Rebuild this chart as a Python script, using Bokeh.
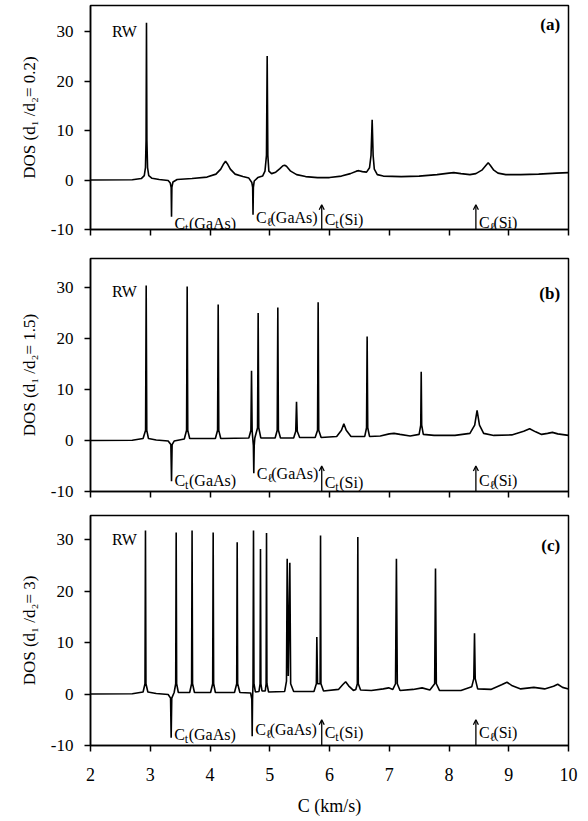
from bokeh.plotting import figure
from bokeh.layouts import column
from bokeh.models import Range1d, Arrow, OpenHead
from bokeh.core.properties import value
from bokeh.embed import file_html
from bokeh.resources import INLINE

SERIF = "Liberation Serif"

x_ticks = [2, 3, 4, 5, 6, 7, 8, 9, 10]
y_ticks = [-10, 0, 10, 20, 30]
y_tick_labels = {-10: "-10", 0: "0", 10: "10", 20: "20", 30: "30"}

# DOS curves: (C in km/s, DOS)
dos_a = [
    (2.0, 0), (2.7, 0.05), (2.85, 0.3), (2.90, 0.9), (2.92, 2.5), (2.93, 8), (2.937, 31.8),
    (2.944, 8), (2.955, 2.5), (2.975, 0.9), (3.03, 0.35), (3.15, 0.1), (3.30, -0.1),
    (3.335, -0.6), (3.35, -1.5), (3.356, -7.4), (3.362, -1.5), (3.38, -0.4), (3.45, 0.1),
    (3.7, 0.3), (3.95, 0.6), (4.1, 1.2), (4.18, 2.2), (4.23, 3.3), (4.26, 3.8), (4.29, 3.3),
    (4.34, 2.2), (4.42, 1.2), (4.55, 0.7), (4.65, 0.4), (4.70, -0.5), (4.714, -1.5),
    (4.72, -7.0), (4.726, -1.5), (4.74, -0.2), (4.80, 0.5), (4.88, 0.8), (4.92, 1.8),
    (4.945, 5), (4.957, 25.1), (4.968, 5), (4.985, 1.8), (5.03, 1.3), (5.10, 1.6),
    (5.17, 2.3), (5.22, 2.9), (5.25, 3.0), (5.28, 2.8), (5.35, 1.8), (5.45, 1.1),
    (5.60, 0.7), (5.80, 0.5), (6.00, 0.5), (6.20, 0.8), (6.35, 1.3), (6.45, 1.8),
    (6.49, 1.9), (6.55, 1.7), (6.62, 1.6), (6.67, 2.5), (6.695, 5), (6.714, 12.2),
    (6.73, 5), (6.75, 2.2), (6.80, 1.1), (6.90, 0.8), (7.20, 0.7), (7.50, 0.8),
    (7.80, 1.1), (8.00, 1.4), (8.08, 1.5), (8.20, 1.3), (8.35, 1.1), (8.45, 1.3),
    (8.55, 2.0), (8.62, 3.0), (8.656, 3.5), (8.69, 3.0), (8.75, 2.0), (8.82, 1.4),
    (8.95, 1.1), (9.20, 1.1), (9.50, 1.2), (9.80, 1.4), (10.0, 1.5),
]

dos_b = [
    (2.0, 0), (2.7, 0.05), (2.88, 0.4), (2.922, 2), (2.932, 30.4), (2.942, 2), (2.97, 0.4),
    (3.1, 0.1), (3.30, -0.1), (3.345, -0.8), (3.356, -8.0), (3.366, -0.8), (3.40, -0.1),
    (3.57, 0.3), (3.608, 2), (3.618, 30.2), (3.628, 2), (3.66, 0.4), (4.09, 0.4),
    (4.127, 2), (4.137, 26.7), (4.147, 2), (4.18, 0.4), (4.65, 0.5), (4.685, 2),
    (4.695, 13.7), (4.705, 2), (4.715, 0.5), (4.726, -1), (4.733, -6.4), (4.74, -1),
    (4.75, 0.5), (4.796, 2.5), (4.806, 25.0), (4.816, 2.5), (4.85, 0.5), (5.09, 0.5),
    (5.125, 2), (5.135, 26.1), (5.145, 2), (5.18, 0.5), (5.40, 0.5), (5.435, 1.8),
    (5.448, 7.6), (5.461, 1.8), (5.50, 0.6), (5.76, 0.6), (5.80, 2), (5.81, 27.1),
    (5.82, 2), (5.86, 0.6), (6.12, 0.8), (6.20, 2), (6.24, 3.3), (6.28, 2), (6.36, 0.8),
    (6.59, 0.8), (6.62, 2.5), (6.63, 20.4), (6.64, 2.5), (6.67, 0.8), (6.85, 0.9),
    (7.0, 1.3), (7.08, 1.4), (7.18, 1.2), (7.35, 0.9), (7.50, 1.2), (7.527, 3),
    (7.535, 13.5), (7.543, 3), (7.57, 1.2), (7.75, 1.0), (8.1, 1.0), (8.35, 1.4),
    (8.43, 3), (8.47, 5.9), (8.51, 3), (8.58, 1.4), (8.75, 1.0), (9.05, 1.1),
    (9.25, 1.8), (9.35, 2.3), (9.45, 1.7), (9.55, 1.2), (9.65, 1.4), (9.73, 1.6),
    (9.82, 1.3), (10.0, 1.0),
]

dos_c = [
    (2.0, 0), (2.7, 0.05), (2.88, 0.4), (2.912, 2), (2.92, 31.8), (2.928, 2), (2.96, 0.4),
    (3.1, 0.1), (3.30, -0.1), (3.34, -0.8), (3.35, -8.5), (3.36, -0.8), (3.40, 0.3),
    (3.426, 2), (3.434, 31.4), (3.442, 2), (3.47, 0.3), (3.66, 0.3), (3.692, 2),
    (3.70, 31.8), (3.708, 2), (3.74, 0.3), (4.01, 0.3), (4.045, 2), (4.053, 31.4),
    (4.061, 2), (4.09, 0.3), (4.41, 0.3), (4.447, 2), (4.455, 29.5), (4.463, 2),
    (4.50, 0.3), (4.68, 0.2), (4.70, -1), (4.706, -8.2), (4.712, -1), (4.72, 2),
    (4.728, 31.8), (4.736, 2), (4.76, 0.4), (4.82, 0.5), (4.838, 2), (4.845, 28.2),
    (4.852, 2), (4.87, 0.6), (4.925, 0.6), (4.939, 2), (4.946, 31.3), (4.953, 2),
    (4.98, 0.4), (5.25, 0.5), (5.28, 2.5), (5.292, 26.3), (5.31, 3.5), (5.336, 25.5),
    (5.35, 2), (5.40, 0.5), (5.74, 0.5), (5.78, 2), (5.788, 11.1), (5.80, 2),
    (5.843, 2), (5.85, 30.8), (5.857, 2), (5.90, 0.6), (6.15, 0.9), (6.22, 1.8),
    (6.27, 2.4), (6.32, 1.6), (6.40, 0.7), (6.44, 0.9), (6.466, 2), (6.474, 30.5),
    (6.482, 2), (6.52, 0.8), (6.7, 0.7), (6.9, 1.0), (6.99, 1.2), (7.06, 0.9),
    (7.105, 2), (7.12, 26.3), (7.135, 2), (7.18, 0.7), (7.40, 0.9), (7.55, 1.2),
    (7.68, 0.8), (7.76, 2), (7.774, 24.4), (7.788, 2), (7.84, 0.7), (8.2, 0.7),
    (8.38, 1.4), (8.415, 3), (8.427, 11.8), (8.439, 3), (8.48, 1.0), (8.7, 0.9),
    (8.88, 1.8), (8.97, 2.3), (9.06, 1.6), (9.2, 1.0), (9.42, 1.3), (9.6, 1.0),
    (9.75, 1.5), (9.82, 1.9), (9.9, 1.3), (10.0, 1.0),
]

ratios = ["0.2", "1.5", "3"]
panel_tags = ["(a)", "(b)", "(c)"]
gaas_edge_x = [[3.356, 4.72], [3.356, 4.733], [3.35, 4.706]]
si_edge_x = [5.87, 8.45]
arrow_tip_y = -5.0
# label baselines per panel: Ct(GaAs), Cl(GaAs), Ct(Si), Cl(Si)
edge_label_y = [[-8.7, -7.6, -8.0, -8.5], [-7.9, -6.4, -8.2, -7.8], [-7.9, -6.9, -7.5, -7.5]]
rw_y = [30.0, 29.2, 30.0]
tag_y = [31.4, 28.8, 28.9]
y_top = [35.3, 35.7, 34.7]

fig_h = [249, 258, 311]
border_top = [5, 9, 8]
border_bottom = [20, 16, 72]


def panel(i, pts):
    last = (i == 2)
    p = figure(width=580, height=fig_h[i], x_range=Range1d(2, 10),
               y_range=Range1d(-10, y_top[i]), output_backend="svg",
               toolbar_location=None, min_border_left=90, min_border_right=12,
               min_border_top=border_top[i], min_border_bottom=border_bottom[i])
    p.grid.visible = False
    p.outline_line_color = "black"
    p.outline_line_width = 1.5
    p.background_fill_color = "white"

    for ax in (p.xaxis, p.yaxis):
        ax.major_tick_in = 0
        ax.major_tick_out = 6
        ax.minor_tick_line_color = None
        ax.axis_line_width = 1.5
        ax.major_tick_line_width = 1.5
        ax.axis_line_color = "black"
        ax.major_tick_line_color = "black"
        ax.major_label_text_font = SERIF
        ax.major_label_text_color = "black"
        ax.axis_label_text_font = SERIF
        ax.axis_label_text_font_style = "normal"
        ax.axis_label_text_color = "black"

    p.xaxis.ticker = x_ticks
    p.yaxis.ticker = y_ticks
    p.yaxis.major_label_overrides = y_tick_labels
    p.yaxis.major_label_text_font_size = "17px"
    p.yaxis.major_label_standoff = 11
    p.yaxis.axis_label = "DOS (d\u2081 /d\u2082= " + ratios[i] + ")"
    p.yaxis.axis_label_text_font_size = "17px"
    p.yaxis.axis_label_standoff = 9

    if last:
        p.xaxis.major_label_text_font_size = "18px"
        p.xaxis.major_label_standoff = 16
        p.xaxis.axis_label = "C (km/s)"
        p.xaxis.axis_label_text_font_size = "18px"
        p.xaxis.axis_label_standoff = 12
    else:
        # tick marks only: labels are not painted
        p.xaxis.major_label_text_font_size = "1px"
        p.xaxis.major_label_text_color = None
        p.xaxis.major_label_standoff = 0

    xs = [q[0] for q in pts]
    ys = [q[1] for q in pts]
    p.line(xs, ys, line_color="black", line_width=1.6)

    # Si edge arrows
    for sx in si_edge_x:
        p.add_layout(Arrow(end=OpenHead(size=5, line_width=1.3, line_color="black"),
                           x_start=sx, y_start=-10, x_end=sx, y_end=arrow_tip_y,
                           line_width=1.3, line_color="black"))

    ly = edge_label_y[i]
    ax_x = [gaas_edge_x[i][0], gaas_edge_x[i][1], si_edge_x[0], si_edge_x[1]]
    subs = ["t", "\u2113", "t", "\u2113"]
    rests = ["(GaAs)", "(GaAs)", "(Si)", "(Si)"]
    p.text(x=ax_x, y=ly, text=["C"] * 4, x_offset=3, text_font=value(SERIF),
           text_font_size="16px", text_align="left", text_baseline="alphabetic",
           text_color="black")
    p.text(x=ax_x, y=[v - 0.9 for v in ly], text=subs, x_offset=13.5,
           text_font=value(SERIF), text_font_size="12px", text_align="left",
           text_baseline="alphabetic", text_color="black")
    p.text(x=ax_x, y=ly, text=rests, x_offset=17.5, text_font=value(SERIF),
           text_font_size="16px", text_align="left", text_baseline="alphabetic",
           text_color="black")

    p.text(x=[2.36], y=[rw_y[i]], text=["RW"], text_font=value(SERIF),
           text_font_size="16px", text_align="left", text_baseline="middle",
           text_color="black")
    p.text(x=[9.86], y=[tag_y[i]], text=[panel_tags[i]], text_font=value(SERIF),
           text_font_size="17px", text_font_style="bold", text_align="right",
           text_baseline="middle", text_color="black")
    return p


layout = column(panel(0, dos_a), panel(1, dos_b), panel(2, dos_c))
open("out.html", "w").write(file_html(layout, INLINE))
